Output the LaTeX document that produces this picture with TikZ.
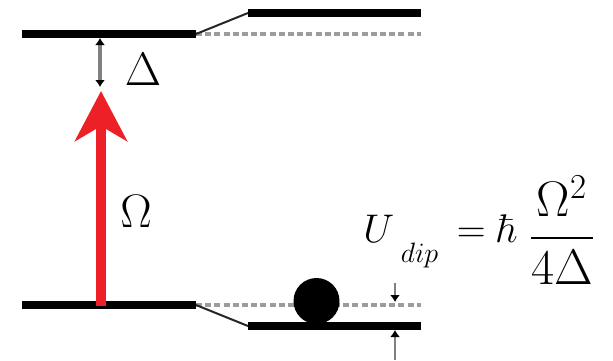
\RequirePackage{fix-cm}
\documentclass[tikz,border=0pt]{standalone}
\usepackage{amsmath}
\usepackage{tikz}
\usetikzlibrary{calc, positioning, arrows.meta}
\definecolor{pumpRed}{HTML}{EE2027}
\definecolor{shiftGrey}{HTML}{808080}
\definecolor{dashGrey}{HTML}{9C9C9C}
\tikzset{
  state/.style   = {draw=black, line width=4.3pt},
  bare/.style    = {draw=dashGrey, line width=2.2pt, dash pattern=on 3pt off 1.6pt},
  slant/.style   = {draw=black!85, line width=1pt},
  pump/.style    = {draw=pumpRed, line width=5pt,
                    -{Stealth[length=25pt, width=26pt, inset=7.5pt]}},
  detune/.style  = {draw=shiftGrey, line width=1.6pt,
                    {Latex[black, length=3.5pt, width=5pt]}-{Latex[black, length=3.5pt, width=5pt]}},
  nudge/.style   = {draw=shiftGrey, line width=1.3pt, -{Latex[black, length=3.5pt, width=5pt]}},
  sym/.style     = {font=\fontsize{23.5}{27}\selectfont, inner sep=0pt}
}

\begin{document}
\begin{tikzpicture}[x=0.5pt, y=-0.5pt]
  \useasboundingbox (0,0) rectangle (613,360);

  % excited level, bare and light shifted
  \coordinate (eL) at (22,34);
  \coordinate (eM) at (196,34);
  \coordinate (eS) at (248,13);
  \coordinate (eR) at (421,13);
  \coordinate (eB) at (421,34);
  % ground level, bare and light shifted
  \coordinate (gL) at (22,305);
  \coordinate (gM) at (196,305);
  \coordinate (gS) at (248,326);
  \coordinate (gR) at (421,326);
  \coordinate (gB) at (421,305);

  \draw[bare] (eM) -- (eB);
  \draw[bare] (gM) -- (gB);
  \draw[state] (eL) -- (eM);
  \draw[state] (eS) -- (eR);
  \draw[state] (gL) -- (gM);
  \draw[state] (gS) -- (gR);
  \draw[slant] (eM) -- (eS);
  \draw[slant] (gM) -- (gS);

  \node[circle, fill=black, minimum size=23pt, inner sep=0pt] (atom) at (316.5,301) {};

  % laser and detuning
  \coordinate (pumpFoot) at (101,306);
  \coordinate (pumpTip) at (101,91);
  \draw[pump] (pumpFoot) -- (pumpTip);

  \coordinate (detTop) at (100,38);
  \coordinate (detBot) at (100,87);
  \draw[detune] (detTop) -- (detBot);

  \node[sym] (delta) at (143,69) {$\Delta$};
  \node[sym] (omega) at (136,211) {$\Omega$};

  % shift of the ground state
  \coordinate (shiftA) at (395,283);
  \coordinate (shiftAend) at (395,302);
  \coordinate (shiftB) at (395,360);
  \coordinate (shiftBend) at (395,330);
  \draw[nudge] (shiftA) -- (shiftAend);
  \draw[nudge] (shiftB) -- (shiftBend);

  \node[font=\fontsize{20}{24}\selectfont, anchor=base west, inner sep=0pt] (udip) at (363,242)
    {$U\mkern3mu{}_{\raisebox{-7pt}{$\scriptstyle dip$}}\mkern3mu = \hbar\mkern5mu\raisebox{-4.25pt}{\fontsize{25}{29}\selectfont$\dfrac{\Omega^2}{4\Delta}$}$};
\end{tikzpicture}
\end{document}
